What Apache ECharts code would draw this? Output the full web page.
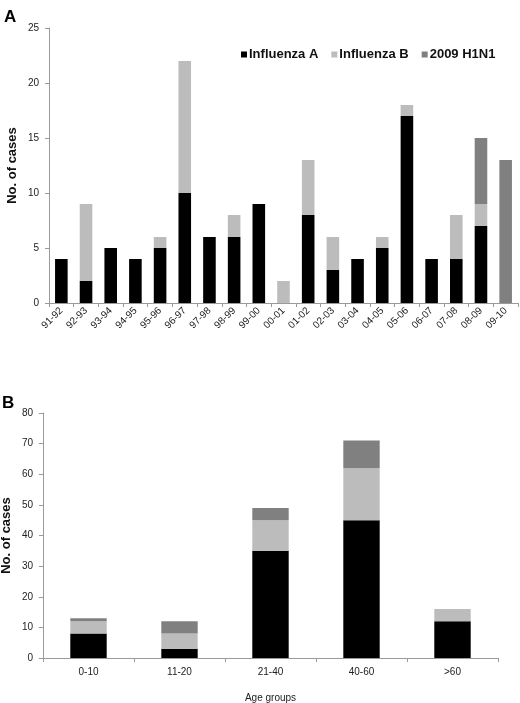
<!DOCTYPE html>
<html>
<head>
<meta charset="utf-8">
<style>
  html, body { margin: 0; padding: 0; background: #fff; }
  #chart { width: 520px; height: 703px; }
</style>
<script src="https://cdn.jsdelivr.net/npm/echarts@6/dist/echarts.min.js"></script>
</head>
<body>
<div id="chart"></div>
<script>
// Panel A: cases per season
const seasons = ['91-92', '92-93', '93-94', '94-95', '95-96', '96-97', '97-98', '98-99', '99-00', '00-01',
  '01-02', '02-03', '03-04', '04-05', '05-06', '06-07', '07-08', '08-09', '09-10'];
const seasonFluA = [4, 2, 5, 4, 5, 10, 6, 6, 9, 0, 8, 3, 4, 5, 17, 4, 4, 7, 0];
const seasonFluB = [0, 7, 0, 0, 1, 12, 0, 2, 0, 2, 5, 3, 0, 1, 1, 0, 4, 2, 0];
const seasonH1N1 = [0, 0, 0, 0, 0, 0, 0, 0, 0, 0, 0, 0, 0, 0, 0, 0, 0, 6, 13];

// Panel B: cases per age group
const ageGroups = ['0-10', '11-20', '21-40', '40-60', '>60'];
const ageFluA = [8, 3, 35, 45, 12];
const ageFluB = [4, 5, 10, 17, 4];
const ageH1N1 = [1, 4, 4, 9, 0];

const seriesNames = ['Influenza A', 'Influenza B', '2009 H1N1'];
const colors = ['#000000', '#bcbcbc', '#808080'];

const axisGray = '#9a9a9a';
const labelText = { color: '#222', fontSize: 10, fontFamily: 'Liberation Sans' };

const chart = echarts.init(document.getElementById('chart'));

function catAxis(gridIndex, data, extra) {
  return Object.assign({
    type: 'category',
    gridIndex: gridIndex,
    data: data,
    axisLine: { lineStyle: { color: axisGray } },
    axisTick: { show: true, alignWithLabel: false, length: 4, lineStyle: { color: axisGray } },
    axisLabel: Object.assign({ margin: 9 }, labelText)
  }, extra);
}

function valAxis(gridIndex, max, interval, nameGap) {
  return {
    type: 'value',
    gridIndex: gridIndex,
    min: 0,
    max: max,
    interval: interval,
    name: 'No. of cases',
    nameLocation: 'middle',
    nameGap: nameGap,
    nameMoveOverlap: false,
    nameTextStyle: { fontSize: 13, fontWeight: 'bold', color: '#111', fontFamily: 'Liberation Sans' },
    axisLine: { show: true, lineStyle: { color: axisGray } },
    axisTick: { show: true, length: 4, lineStyle: { color: axisGray } },
    axisLabel: Object.assign({ margin: 10 }, labelText),
    splitLine: { show: false }
  };
}

function stack(name, data, color, axisIndex, barWidth) {
  return {
    name: name,
    type: 'bar',
    stack: 'total' + axisIndex,
    xAxisIndex: axisIndex,
    yAxisIndex: axisIndex,
    data: data,
    barWidth: barWidth,
    itemStyle: { color: color },
    emphasis: { disabled: true }
  };
}

const option = {
  animation: false,
  backgroundColor: '#fff',
  legend: {
    data: seriesNames,
    top: 43,
    left: 236,
    itemWidth: 6,
    itemHeight: 6,
    itemGap: 13,
    icon: 'rect',
    textStyle: { fontSize: 13, fontWeight: 'bold', color: '#111', fontFamily: 'Liberation Sans', padding: [0, 0, 0, -3] }
  },
  graphic: [
    { type: 'text', left: 4, top: 9, style: { text: 'A', fontSize: 17, fontWeight: 'bold', fill: '#000', fontFamily: 'Liberation Sans' } },
    { type: 'text', left: 2, top: 395, style: { text: 'B', fontSize: 17, fontWeight: 'bold', fill: '#000', fontFamily: 'Liberation Sans' } }
  ],
  grid: [
    { left: 49, right: 2, top: 28, bottom: 400, outerBoundsMode: 'none', containLabel: false },
    { left: 43, right: 22, top: 413, bottom: 45, outerBoundsMode: 'none', containLabel: false }
  ],
  xAxis: [
    catAxis(0, seasons, { axisLabel: Object.assign({ rotate: 45, margin: 6, interval: 0 }, labelText) }),
    catAxis(1, ageGroups, {
      name: 'Age groups',
      nameLocation: 'middle',
      nameGap: 35,
      nameTextStyle: { fontSize: 10, color: '#222', fontFamily: 'Liberation Sans' }
    })
  ],
  yAxis: [
    valAxis(0, 25, 5, 30),
    valAxis(1, 80, 10, 30)
  ],
  series: [
    stack(seriesNames[0], seasonFluA, colors[0], 0, '51%'),
    stack(seriesNames[1], seasonFluB, colors[1], 0, '51%'),
    stack(seriesNames[2], seasonH1N1, colors[2], 0, '51%'),
    stack(seriesNames[0], ageFluA, colors[0], 1, '40%'),
    stack(seriesNames[1], ageFluB, colors[1], 1, '40%'),
    stack(seriesNames[2], ageH1N1, colors[2], 1, '40%')
  ]
};

chart.setOption(option);
window.addEventListener('resize', () => chart.resize());
</script>
</body>
</html>
